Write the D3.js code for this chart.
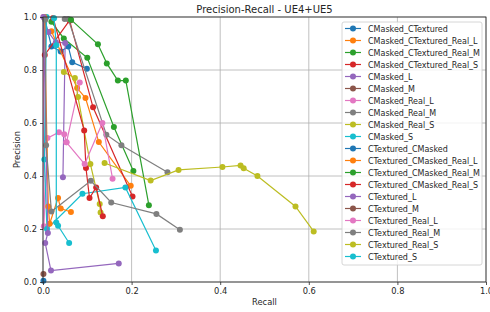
<!DOCTYPE html>
<html>
<head>
<meta charset="utf-8">
<script src="https://cdn.jsdelivr.net/npm/d3@7"></script>
<style>
body { margin: 0; background: #fff; }
text { font-family: "DejaVu Sans", sans-serif; fill: #262626; }
</style>
</head>
<body>
<div id="chart"></div>
<script>
// series names (legend order) and tab10 colours
let names = ["CMasked_CTextured", "CMasked_CTextured_Real_L", "CMasked_CTextured_Real_M", "CMasked_CTextured_Real_S",
  "CMasked_L", "CMasked_M", "CMasked_Real_L", "CMasked_Real_M", "CMasked_Real_S", "CMasked_S",
  "CTextured_CMasked", "CTextured_CMasked_Real_L", "CTextured_CMasked_Real_M", "CTextured_CMasked_Real_S",
  "CTextured_L", "CTextured_M", "CTextured_Real_L", "CTextured_Real_M", "CTextured_Real_S", "CTextured_S"];
let palette = ["#1f77b4", "#ff7f0e", "#2ca02c", "#d62728", "#9467bd", "#8c564b", "#e377c2", "#7f7f7f", "#bcbd22", "#17becf"];

// recall / precision per series
let recallValues = [
  [0.003, 0.019, 0.040, 0.057, 0.066, 0.099],
  [0.019, 0.077, 0.096, 0.126, 0.198],
  [0.019, 0.047, 0.100, 0.160, 0.204],
  [0.004, 0.060, 0.113, 0.202],
  [0.012, 0.029, 0.050, 0.045],
  [0.063],
  [0.001, 0.002, 0.010, 0.036, 0.048, 0.053, 0.083],
  [0.049, 0.057, 0.143, 0.177, 0.281],
  [0.047, 0.072, 0.079, 0.107, 0.128, 0.130],
  [0.008, 0.003, 0.009, 0.089, 0.186, 0.255],
  [0.001],
  [0.003, 0.012, 0.015, 0.034, 0.040, 0.063],
  [0.063, 0.124, 0.144, 0.169, 0.187, 0.239],
  [0.023, 0.093, 0.097, 0.105, 0.120, 0.135],
  [0.001, 0.011, 0.005, 0.018, 0.171],
  [0.001],
  [0.053, 0.094, 0.134, 0.157],
  [0.005, 0.007, 0.019, 0.108, 0.154, 0.256, 0.309],
  [0.139, 0.243, 0.306, 0.405, 0.446, 0.453, 0.484, 0.570, 0.611],
  [0.025, 0.030, 0.030, 0.034, 0.059]
];
let precisionValues = [
  [1.0, 0.889, 0.870, 0.889, 0.829, 0.805],
  [0.946, 0.732, 0.694, 0.528, 0.363],
  [0.982, 0.919, 0.846, 0.585, 0.419],
  [0.857, 0.987, 0.659, 0.323],
  [0.943, 0.905, 0.902, 0.395],
  [0.988],
  [1.0, 0.21, 0.543, 0.565, 0.558, 0.527, 0.753],
  [0.992, 0.992, 0.556, 0.516, 0.414],
  [0.792, 0.770, 0.698, 0.445, 0.294, 0.262],
  [1.0, 0.462, 0.200, 0.333, 0.357, 0.119],
  [0.005],
  [1.0, 0.285, 0.220, 0.317, 0.277, 0.264],
  [0.99, 0.897, 0.825, 0.760, 0.760, 0.290],
  [0.996, 0.572, 0.430, 0.317, 0.357, 0.248],
  [1.0, 0.185, 0.147, 0.043, 0.070],
  [0.030],
  [0.527, 0.445, 0.600, 0.390],
  [0.99, 0.516, 0.266, 0.382, 0.300, 0.257, 0.197],
  [0.449, 0.383, 0.423, 0.434, 0.440, 0.429, 0.400, 0.285, 0.191],
  [0.995, 0.893, 0.225, 0.212, 0.147]
];
let ticks = [0, 0.2, 0.4, 0.6, 0.8, 1.0];

let W = 490, H = 312;
let m = {left: 43, right: 4, top: 17, bottom: 30};
let svg = d3.select("#chart").append("svg").attr("width", W).attr("height", H);

let x = d3.scaleLinear().domain([0, 1]).range([m.left, W - m.right]);
let y = d3.scaleLinear().domain([0, 1]).range([H - m.bottom, m.top]);

// grid
let grid = svg.append("g");
grid.selectAll(".gx").data(ticks).enter().append("line")
  .attr("x1", d => x(d)).attr("x2", d => x(d)).attr("y1", y(0)).attr("y2", y(1))
  .attr("stroke", "#b0b0b0").attr("stroke-width", 0.8);
grid.selectAll(".gy").data(ticks).enter().append("line")
  .attr("y1", d => y(d)).attr("y2", d => y(d)).attr("x1", x(0)).attr("x2", x(1))
  .attr("stroke", "#b0b0b0").attr("stroke-width", 0.8);

// series
let series = names.map((n, i) => ({
  name: n, color: palette[i % 10],
  pts: recallValues[i].map((r, j) => [r, precisionValues[i][j]])
}));
let line = d3.line().x(d => x(d[0])).y(d => y(d[1]));
let plot = svg.append("g");
series.forEach(s => {
  let g = plot.append("g");
  g.append("path").datum(s.pts).attr("d", line)
    .attr("fill", "none").attr("stroke", s.color).attr("stroke-width", 1.2);
  g.selectAll("circle").data(s.pts).enter().append("circle")
    .attr("cx", d => x(d[0])).attr("cy", d => y(d[1])).attr("r", 3)
    .attr("fill", s.color);
});

// axes
let axX = svg.append("g").attr("transform", "translate(0," + y(0) + ")")
  .call(d3.axisBottom(x).tickValues(ticks).tickFormat(d3.format(".1f")).tickSize(3).tickPadding(3));
let axY = svg.append("g").attr("transform", "translate(" + x(0) + ",0)")
  .call(d3.axisLeft(y).tickValues(ticks).tickFormat(d3.format(".1f")).tickSize(3).tickPadding(3));
[axX, axY].forEach(a => {
  a.select(".domain").remove();
  a.selectAll("text").style("font-size", "8.3px").style("font-family", "DejaVu Sans").attr("fill", "#262626");
  a.selectAll("line").attr("stroke", "#262626").attr("stroke-width", 0.8);
});
svg.append("rect").attr("x", x(0)).attr("y", y(1)).attr("width", x(1) - x(0)).attr("height", y(0) - y(1))
  .attr("fill", "none").attr("stroke", "#262626").attr("stroke-width", 0.8);

// labels
svg.append("text").attr("x", (x(0) + x(1)) / 2).attr("y", 13).attr("text-anchor", "middle")
  .style("font-size", "10px").text("Precision-Recall - UE4+UE5");
svg.append("text").attr("x", (x(0) + x(1)) / 2).attr("y", 305).attr("text-anchor", "middle")
  .style("font-size", "8.3px").text("Recall");
svg.append("text").attr("transform", "translate(20," + (y(0) + y(1)) / 2 + ") rotate(-90)")
  .attr("text-anchor", "middle").style("font-size", "8.3px").text("Precision");

// legend
let lg = svg.append("g").attr("transform", "translate(342,22)");
lg.append("rect").attr("width", 140).attr("height", 243).attr("rx", 2)
  .attr("fill", "#fff").attr("fill-opacity", 0.8).attr("stroke", "#cccccc").attr("stroke-width", 0.8);
let items = lg.selectAll(".item").data(series).enter().append("g")
  .attr("transform", (d, i) => "translate(0," + (6.5 + i * 12) + ")");
items.append("line").attr("x1", 3).attr("x2", 19).attr("stroke", d => d.color).attr("stroke-width", 1.2);
items.append("circle").attr("cx", 11).attr("r", 3).attr("fill", d => d.color);
items.append("text").attr("x", 26).attr("y", 3).style("font-size", "8px").text(d => d.name);
</script>
</body>
</html>
